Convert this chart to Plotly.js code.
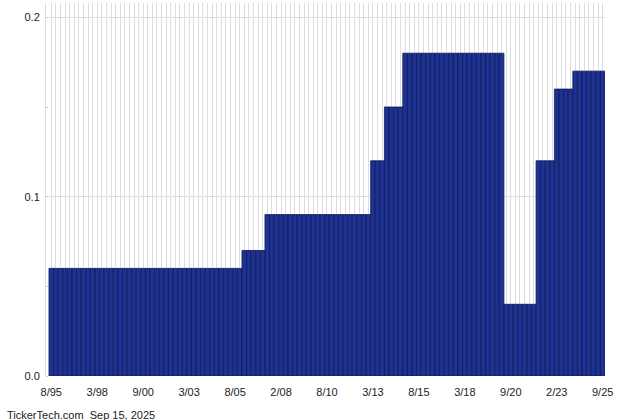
<!DOCTYPE html>
<html>
<head>
<meta charset="utf-8">
<script src="https://cdn.plot.ly/plotly-3.0.1.min.js"></script>
<style>
html,body{margin:0;padding:0;background:#fff;}
#chart{width:640px;height:420px;}
</style>
</head>
<body>
<div id="chart"></div>
<script>
// Quarterly dividend amounts, 8/95 through 9/25 (121 payments)
const dividends = [
  0.06,0.06,0.06,0.06,0.06,0.06,0.06,0.06,0.06,0.06,
  0.06,0.06,0.06,0.06,0.06,0.06,0.06,0.06,0.06,0.06,
  0.06,0.06,0.06,0.06,0.06,0.06,0.06,0.06,0.06,0.06,
  0.06,0.06,0.06,0.06,0.06,0.06,0.06,0.06,0.06,0.06,
  0.06,0.06,
  0.07,0.07,0.07,0.07,0.07,
  0.09,0.09,0.09,0.09,0.09,0.09,0.09,0.09,0.09,0.09,
  0.09,0.09,0.09,0.09,0.09,0.09,0.09,0.09,0.09,0.09,
  0.09,0.09,0.09,
  0.12,0.12,0.12,
  0.15,0.15,0.15,0.15,
  0.18,0.18,0.18,0.18,0.18,0.18,0.18,0.18,0.18,0.18,
  0.18,0.18,0.18,0.18,0.18,0.18,0.18,0.18,0.18,0.18,
  0.18,0.18,
  0.04,0.04,0.04,0.04,0.04,0.04,0.04,
  0.12,0.12,0.12,0.12,
  0.16,0.16,0.16,0.16,
  0.17,0.17,0.17,0.17,0.17,0.17,0.17
];
// Labels shown under every 10th payment
const tickLabels = ["8/95","3/98","9/00","3/03","8/05","2/08","8/10","3/13","8/15","3/18","9/20","2/23","9/25"];
const yTickVals = [0, 0.1, 0.2];
const yTickText = ["0.0", "0.1", "0.2"];

const xPos = dividends.map((_, i) => i);
const tickPos = tickLabels.map((_, i) => i * 10);

const trace = {
  type: "bar",
  x: xPos,
  y: dividends,
  marker: {
    color: "#1d3292",
    line: {color: "#101a55", width: 0.8}
  },
  hoverinfo: "y"
};

const layout = {
  width: 640,
  height: 420,
  margin: {l: 46, r: 35, t: 3, b: 44, pad: 0},
  paper_bgcolor: "#ffffff",
  plot_bgcolor: "#ffffff",
  bargap: 0,
  showlegend: false,
  font: {family: "Liberation Sans, Arial, sans-serif", size: 11, color: "#222"},
  xaxis: {
    range: [-1.15, 120.5],
    tickmode: "array",
    tickvals: tickPos,
    ticktext: tickLabels,
    showgrid: true,
    gridcolor: "#dddddd",
    gridwidth: 1,
    minor: {dtick: 1, tick0: 0, showgrid: true, gridcolor: "#dddddd", gridwidth: 1},
    ticks: "outside",
    ticklen: 6,
    tickcolor: "rgba(0,0,0,0)",
    showline: false,
    zeroline: false,
    tickfont: {size: 11, color: "#222"}
  },
  yaxis: {
    range: [0, 0.208],
    tickmode: "array",
    tickvals: yTickVals,
    ticktext: yTickText,
    showgrid: true,
    gridcolor: "#dddddd",
    gridwidth: 1,
    zeroline: false,
    showline: true,
    linecolor: "#dddddd",
    linewidth: 1,
    ticks: "outside",
    ticklen: 3,
    tickcolor: "rgba(0,0,0,0)",
    minor: {dtick: 0.05, tick0: 0, ticks: "inside", ticklen: 2, tickcolor: "#cccccc", showgrid: false},
    tickfont: {size: 11, color: "#222"}
  },
  annotations: [{
    text: "TickerTech.com  Sep 15, 2025",
    xref: "paper", yref: "paper",
    x: -46/559, y: -38.5/373,
    xanchor: "left", yanchor: "middle",
    xshift: 5,
    showarrow: false,
    font: {family: "Liberation Sans, Arial, sans-serif", size: 11, color: "#222"}
  }]
};

Plotly.newPlot("chart", [trace], layout, {displayModeBar: false, staticPlot: true});
</script>
</body>
</html>
